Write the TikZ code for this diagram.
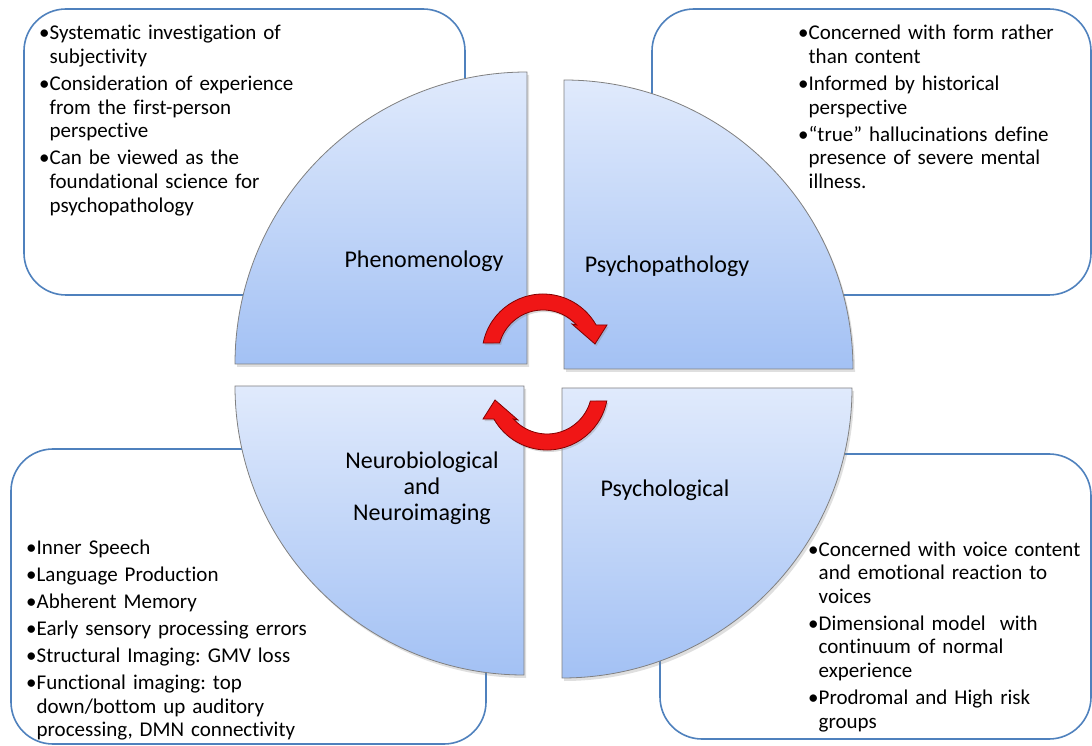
\documentclass[tikz,border=0pt]{standalone}
\usepackage{fontspec}
\setmainfont{Carlito}[Ligatures=NoCommon]
\usetikzlibrary{shadows}
\definecolor{boxblue}{RGB}{79,129,189}
\definecolor{qtop}{RGB}{224,234,252}
\definecolor{qbot}{RGB}{163,193,244}
\definecolor{qline}{RGB}{128,128,128}
\definecolor{arrred}{RGB}{240,22,22}
\definecolor{arrdark}{RGB}{130,0,0}
\newlength\bulind
\setlength\bulind{10.5pt}
\newcommand\bul[1]{\hangindent=\bulind\hangafter=1\noindent\makebox[\bulind][l]{\textbullet}#1\par}
\newcommand\bulx[1]{\vspace{3.5pt}\bul{#1}}
\tikzset{
  panel/.style={draw=boxblue, line width=1.6pt, fill=white, rounded corners=42pt, inner sep=0pt},
  bultxt/.style={anchor=base west, inner sep=0pt, text width=295pt, align=left,
    font=\fontsize{21}{23.6}\selectfont\frenchspacing},
  lab/.style={anchor=base, inner sep=0pt, font=\fontsize{24}{25.8}\selectfont},
  quad/.style={top color=qtop, bottom color=qbot, draw=qline, line width=0.8pt,
    drop shadow={opacity=0.25, shadow xshift=2pt, shadow yshift=-3pt}},
  turn/.style={fill=arrred, draw=arrdark, line width=0.8pt,
    drop shadow={opacity=0.3, shadow xshift=1.5pt, shadow yshift=-2pt}}
}
\begin{document}
\begin{tikzpicture}[x=1pt,y=1pt]
\useasboundingbox (0,0) rectangle (1092,745);
% panels
\node[panel, minimum width=441pt, minimum height=286pt] (boxTL) at (244.5,593) {};
\node[panel, minimum width=439pt, minimum height=286pt] (boxTR) at (871.5,593) {};
\node[panel, minimum width=475pt, minimum height=295pt] (boxBL) at (248.5,148.5) {};
\node[panel, minimum width=431pt, minimum height=285pt] (boxBR) at (875.5,148.5) {};
% quadrants
\shade[quad] (527,381) -- (235,381) arc[start angle=180, end angle=90, radius=292] -- cycle;
\shade[quad] (564,376) -- (564,665) arc[start angle=90, end angle=0, radius=289] -- cycle;
\shade[quad] (524,359) -- (235,359) arc[start angle=180, end angle=270, radius=289] -- cycle;
\shade[quad] (562,357) -- (852,357) arc[start angle=0, end angle=-90, radius=290] -- cycle;
% cycle arrows
\begin{scope}[shift={(543,390)}]
\path[turn] (168.7:61) arc[start angle=168.7, end angle=29.5, radius=61]
  -- (64,30) -- (52,11) -- (29,31) -- (41.8:45)
  arc[start angle=41.8, end angle=164.5, radius=45] -- cycle;
\end{scope}
\begin{scope}[shift={(547,356)}, rotate=180]
\path[turn] (168.7:61) arc[start angle=168.7, end angle=29.5, radius=61]
  -- (64,30) -- (52,11) -- (29,31) -- (41.8:45)
  arc[start angle=41.8, end angle=164.5, radius=45] -- cycle;
\end{scope}
% labels
\node[lab] (phen) at (424,477) {Phenomenology};
\node[lab] (psypath) at (667,472) {Psychopathology};
\node[lab, align=center] (neuro) at (422,225) {Neurobiological\\and\\Neuroimaging};
\node[lab] (psychol) at (665,248) {Psychological};
% bullet texts
\node[bultxt] (tTL) at (39,705) {%
\bul{Systematic investigation of\newline subjectivity}%
\bulx{Consideration of experience\newline from the first-person\newline perspective}%
\bulx{Can be viewed as the\newline foundational science for\newline psychopathology}};
\node[bultxt] (tTR) at (798,705) {%
\bul{Concerned with form rather\newline than content}%
\bulx{Informed by historical\newline perspective}%
\bulx{“true” hallucinations define\newline presence of severe mental\newline illness.}};
\node[bultxt] (tBL) at (26,191) {%
\bul{Inner Speech}%
\bulx{Language Production}%
\bulx{Abherent Memory}%
\bulx{Early sensory processing errors}%
\bulx{Structural Imaging: GMV loss}%
\bulx{Functional imaging: top\newline down/bottom up auditory\newline processing, DMN connectivity}};
\node[bultxt] (tBR) at (808,189) {%
\bul{Concerned with voice content\newline and emotional reaction to\newline voices}%
\bulx{Dimensional model~ with\newline continuum of normal\newline experience}%
\bulx{Prodromal and High risk\newline groups}};
\end{tikzpicture}
\end{document}
